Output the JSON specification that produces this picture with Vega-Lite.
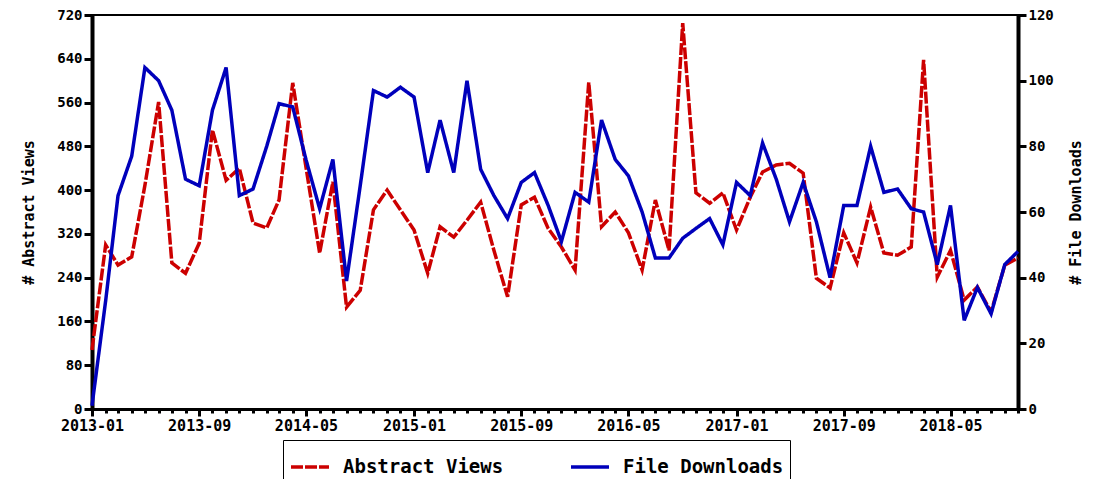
{
  "$schema": "https://vega.github.io/schema/vega-lite/v6.json",
  "width": 926,
  "height": 394,
  "autosize": {"type": "none"},
  "padding": {"left": 92, "top": 15, "right": 93, "bottom": 70},
  "background": "white",
  "data": {
    "values": [
      {"month":"2013-01","series":"Abstract Views","value":108},
      {"month":"2013-02","series":"Abstract Views","value":300},
      {"month":"2013-03","series":"Abstract Views","value":263},
      {"month":"2013-04","series":"Abstract Views","value":278},
      {"month":"2013-05","series":"Abstract Views","value":409},
      {"month":"2013-06","series":"Abstract Views","value":561},
      {"month":"2013-07","series":"Abstract Views","value":267},
      {"month":"2013-08","series":"Abstract Views","value":248},
      {"month":"2013-09","series":"Abstract Views","value":303},
      {"month":"2013-10","series":"Abstract Views","value":510},
      {"month":"2013-11","series":"Abstract Views","value":418},
      {"month":"2013-12","series":"Abstract Views","value":440},
      {"month":"2014-01","series":"Abstract Views","value":340},
      {"month":"2014-02","series":"Abstract Views","value":331},
      {"month":"2014-03","series":"Abstract Views","value":382},
      {"month":"2014-04","series":"Abstract Views","value":596},
      {"month":"2014-05","series":"Abstract Views","value":442},
      {"month":"2014-06","series":"Abstract Views","value":285},
      {"month":"2014-07","series":"Abstract Views","value":415},
      {"month":"2014-08","series":"Abstract Views","value":186},
      {"month":"2014-09","series":"Abstract Views","value":217},
      {"month":"2014-10","series":"Abstract Views","value":364},
      {"month":"2014-11","series":"Abstract Views","value":400},
      {"month":"2014-12","series":"Abstract Views","value":364},
      {"month":"2015-01","series":"Abstract Views","value":327},
      {"month":"2015-02","series":"Abstract Views","value":248},
      {"month":"2015-03","series":"Abstract Views","value":333},
      {"month":"2015-04","series":"Abstract Views","value":314},
      {"month":"2015-05","series":"Abstract Views","value":345},
      {"month":"2015-06","series":"Abstract Views","value":378},
      {"month":"2015-07","series":"Abstract Views","value":290},
      {"month":"2015-08","series":"Abstract Views","value":205},
      {"month":"2015-09","series":"Abstract Views","value":373},
      {"month":"2015-10","series":"Abstract Views","value":387},
      {"month":"2015-11","series":"Abstract Views","value":330},
      {"month":"2015-12","series":"Abstract Views","value":296},
      {"month":"2016-01","series":"Abstract Views","value":254},
      {"month":"2016-02","series":"Abstract Views","value":597},
      {"month":"2016-03","series":"Abstract Views","value":333},
      {"month":"2016-04","series":"Abstract Views","value":360},
      {"month":"2016-05","series":"Abstract Views","value":322},
      {"month":"2016-06","series":"Abstract Views","value":254},
      {"month":"2016-07","series":"Abstract Views","value":382},
      {"month":"2016-08","series":"Abstract Views","value":290},
      {"month":"2016-09","series":"Abstract Views","value":705},
      {"month":"2016-10","series":"Abstract Views","value":395},
      {"month":"2016-11","series":"Abstract Views","value":376},
      {"month":"2016-12","series":"Abstract Views","value":395},
      {"month":"2017-01","series":"Abstract Views","value":327},
      {"month":"2017-02","series":"Abstract Views","value":387},
      {"month":"2017-03","series":"Abstract Views","value":433},
      {"month":"2017-04","series":"Abstract Views","value":446},
      {"month":"2017-05","series":"Abstract Views","value":449},
      {"month":"2017-06","series":"Abstract Views","value":431},
      {"month":"2017-07","series":"Abstract Views","value":239},
      {"month":"2017-08","series":"Abstract Views","value":221},
      {"month":"2017-09","series":"Abstract Views","value":322},
      {"month":"2017-10","series":"Abstract Views","value":267},
      {"month":"2017-11","series":"Abstract Views","value":369},
      {"month":"2017-12","series":"Abstract Views","value":285},
      {"month":"2018-01","series":"Abstract Views","value":281},
      {"month":"2018-02","series":"Abstract Views","value":296},
      {"month":"2018-03","series":"Abstract Views","value":638},
      {"month":"2018-04","series":"Abstract Views","value":241},
      {"month":"2018-05","series":"Abstract Views","value":290},
      {"month":"2018-06","series":"Abstract Views","value":199},
      {"month":"2018-07","series":"Abstract Views","value":223},
      {"month":"2018-08","series":"Abstract Views","value":177},
      {"month":"2018-09","series":"Abstract Views","value":263},
      {"month":"2018-10","series":"Abstract Views","value":276},
      {"month":"2013-01","series":"File Downloads","value":1},
      {"month":"2013-02","series":"File Downloads","value":33},
      {"month":"2013-03","series":"File Downloads","value":65},
      {"month":"2013-04","series":"File Downloads","value":77},
      {"month":"2013-05","series":"File Downloads","value":104},
      {"month":"2013-06","series":"File Downloads","value":100},
      {"month":"2013-07","series":"File Downloads","value":91},
      {"month":"2013-08","series":"File Downloads","value":70},
      {"month":"2013-09","series":"File Downloads","value":68},
      {"month":"2013-10","series":"File Downloads","value":91},
      {"month":"2013-11","series":"File Downloads","value":104},
      {"month":"2013-12","series":"File Downloads","value":65},
      {"month":"2014-01","series":"File Downloads","value":67},
      {"month":"2014-02","series":"File Downloads","value":80},
      {"month":"2014-03","series":"File Downloads","value":93},
      {"month":"2014-04","series":"File Downloads","value":92},
      {"month":"2014-05","series":"File Downloads","value":76},
      {"month":"2014-06","series":"File Downloads","value":61},
      {"month":"2014-07","series":"File Downloads","value":76},
      {"month":"2014-08","series":"File Downloads","value":39},
      {"month":"2014-09","series":"File Downloads","value":68},
      {"month":"2014-10","series":"File Downloads","value":97},
      {"month":"2014-11","series":"File Downloads","value":95},
      {"month":"2014-12","series":"File Downloads","value":98},
      {"month":"2015-01","series":"File Downloads","value":95},
      {"month":"2015-02","series":"File Downloads","value":72},
      {"month":"2015-03","series":"File Downloads","value":88},
      {"month":"2015-04","series":"File Downloads","value":72},
      {"month":"2015-05","series":"File Downloads","value":100},
      {"month":"2015-06","series":"File Downloads","value":73},
      {"month":"2015-07","series":"File Downloads","value":65},
      {"month":"2015-08","series":"File Downloads","value":58},
      {"month":"2015-09","series":"File Downloads","value":69},
      {"month":"2015-10","series":"File Downloads","value":72},
      {"month":"2015-11","series":"File Downloads","value":62},
      {"month":"2015-12","series":"File Downloads","value":51},
      {"month":"2016-01","series":"File Downloads","value":66},
      {"month":"2016-02","series":"File Downloads","value":63},
      {"month":"2016-03","series":"File Downloads","value":88},
      {"month":"2016-04","series":"File Downloads","value":76},
      {"month":"2016-05","series":"File Downloads","value":71},
      {"month":"2016-06","series":"File Downloads","value":60},
      {"month":"2016-07","series":"File Downloads","value":46},
      {"month":"2016-08","series":"File Downloads","value":46},
      {"month":"2016-09","series":"File Downloads","value":52},
      {"month":"2016-10","series":"File Downloads","value":55},
      {"month":"2016-11","series":"File Downloads","value":58},
      {"month":"2016-12","series":"File Downloads","value":50},
      {"month":"2017-01","series":"File Downloads","value":69},
      {"month":"2017-02","series":"File Downloads","value":65},
      {"month":"2017-03","series":"File Downloads","value":81},
      {"month":"2017-04","series":"File Downloads","value":70},
      {"month":"2017-05","series":"File Downloads","value":57},
      {"month":"2017-06","series":"File Downloads","value":69},
      {"month":"2017-07","series":"File Downloads","value":57},
      {"month":"2017-08","series":"File Downloads","value":40},
      {"month":"2017-09","series":"File Downloads","value":62},
      {"month":"2017-10","series":"File Downloads","value":62},
      {"month":"2017-11","series":"File Downloads","value":80},
      {"month":"2017-12","series":"File Downloads","value":66},
      {"month":"2018-01","series":"File Downloads","value":67},
      {"month":"2018-02","series":"File Downloads","value":61},
      {"month":"2018-03","series":"File Downloads","value":60},
      {"month":"2018-04","series":"File Downloads","value":44},
      {"month":"2018-05","series":"File Downloads","value":62},
      {"month":"2018-06","series":"File Downloads","value":27},
      {"month":"2018-07","series":"File Downloads","value":37},
      {"month":"2018-08","series":"File Downloads","value":29},
      {"month":"2018-09","series":"File Downloads","value":44},
      {"month":"2018-10","series":"File Downloads","value":48}
    ]
  },
  "layer": [
    {
      "transform": [{"filter": "datum.series === 'Abstract Views'"}],
      "mark": {"type": "line", "strokeWidth": 3.5},
      "encoding": {
        "x": {
          "field": "month", "type": "temporal",
          "scale": {"type": "utc", "nice": false},
          "axis": {
            "title": null, "orient": "bottom",
            "values": [
              {"year": 2013, "month": 1, "date": 1, "utc": true},
              {"year": 2013, "month": 9, "date": 1, "utc": true},
              {"year": 2014, "month": 5, "date": 1, "utc": true},
              {"year": 2015, "month": 1, "date": 1, "utc": true},
              {"year": 2015, "month": 9, "date": 1, "utc": true},
              {"year": 2016, "month": 5, "date": 1, "utc": true},
              {"year": 2017, "month": 1, "date": 1, "utc": true},
              {"year": 2017, "month": 9, "date": 1, "utc": true},
              {"year": 2018, "month": 5, "date": 1, "utc": true}
            ],
            "labelExpr": "utcFormat(datum.value, '%Y-%m')",
            "labelFontSize": 15,
            "tickSize": 7, "labelPadding": 2, "domainWidth": 3,
            "labelFlush": false, "labelOverlap": false
          }
        },
        "y": {
          "field": "value", "type": "quantitative",
          "scale": {"domain": [0, 720], "nice": false},
          "axis": {
            "title": "# Abstract Views", "orient": "left",
            "values": [0, 80, 160, 240, 320, 400, 480, 560, 640, 720],
            "tickSize": 8, "labelPadding": 2, "titlePadding": 20
          }
        },
        "color": {
          "field": "series", "type": "nominal",
          "scale": {"domain": ["Abstract Views", "File Downloads"], "range": ["#cc0000", "#0000bb"]},
          "legend": {"title": null}
        },
        "strokeDash": {
          "field": "series", "type": "nominal",
          "scale": {"domain": ["Abstract Views", "File Downloads"], "range": [[12, 2], [1, 0]]},
          "legend": {"title": null}
        }
      }
    },
    {
      "transform": [{"filter": "datum.series === 'File Downloads'"}],
      "mark": {"type": "line", "strokeWidth": 3.5},
      "encoding": {
        "x": {
          "field": "month", "type": "temporal",
          "axis": {
            "title": null, "orient": "bottom", "labels": false, "domain": false,
            "tickCount": {"interval": "month", "step": 1},
            "tickSize": 4
          }
        },
        "y": {
          "field": "value", "type": "quantitative",
          "scale": {"domain": [0, 120], "nice": false},
          "axis": {
            "title": "# File Downloads", "orient": "right",
            "values": [0, 20, 40, 60, 80, 100, 120],
            "tickSize": 8, "labelPadding": 2, "titlePadding": 30, "titleAngle": 270
          }
        },
        "color": {"field": "series", "type": "nominal"},
        "strokeDash": {"field": "series", "type": "nominal"}
      }
    }
  ],
  "resolve": {
    "scale": {"y": "independent", "x": "shared"},
    "axis": {"y": "independent", "x": "independent"}
  },
  "config": {
    "font": "DejaVu Sans Mono",
    "view": {"stroke": "black", "strokeWidth": 2},
    "axis": {
      "grid": false,
      "labelFont": "DejaVu Sans Mono", "labelFontWeight": "bold", "labelFontSize": 14, "labelColor": "black",
      "titleFont": "DejaVu Sans Mono", "titleFontWeight": "bold", "titleFontSize": 15, "titleColor": "black",
      "domainColor": "black", "domainWidth": 4, "tickColor": "black", "tickWidth": 3
    },
    "legend": {
      "orient": "none", "legendX": 191, "legendY": 425, "direction": "horizontal",
      "strokeColor": "black", "padding": 6,
      "symbolType": "stroke", "symbolSize": 1444, "symbolStrokeWidth": 3.5,
      "labelFont": "DejaVu Sans Mono", "labelFontWeight": "bold", "labelFontSize": 19, "labelColor": "black",
      "labelLimit": 400, "labelOffset": 12, "columnPadding": 60
    }
  }
}
